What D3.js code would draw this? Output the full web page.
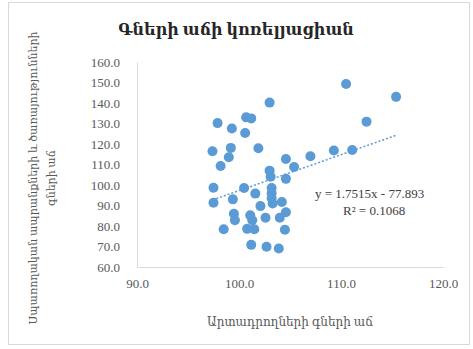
<!DOCTYPE html>
<html><head><meta charset="utf-8">
<script src="https://cdn.jsdelivr.net/npm/d3@7"></script>
<style>
html,body{margin:0;padding:0;background:#fff;}
svg{display:block;}
text{font-family:"Liberation Serif","DejaVu Serif",serif;}
</style></head>
<body><svg id="c" width="473" height="349"></svg>
<script>
const titleText = "Գների աճի կոռելյացիան";
const xTitle = "Արտադրողների գների աճ";
const yTitleLines = ["Սպառողական ապրանքների և ծառայությունների", "գների աճ"];
const xTicks = [90, 100, 110, 120];
const yTicks = [60, 70, 80, 90, 100, 110, 120, 130, 140, 150, 160];
const xValues = [110.5,103.0,100.7,101.2,97.9,99.3,100.6,112.5,115.4,97.4,99.2,101.9,99.0,98.2,104.6,105.4,107.0,109.3,111.1,103.0,103.1,104.6,97.5,100.5,101.6,97.5,99.4,103.2,103.2,103.2,103.3,104.2,102.1,99.5,99.6,101.1,101.3,102.6,104.0,104.6,98.5,100.8,101.5,104.5,101.2,102.7,103.9];
const yValues = [149.3,140.2,133.0,132.5,130.2,127.6,125.4,130.9,143.0,116.5,118.1,117.9,113.5,109.3,112.7,108.8,114.0,116.8,117.1,107.0,104.0,103.0,98.7,98.5,95.8,91.3,93.0,98.5,96.0,93.5,91.0,91.7,89.7,86.0,82.8,85.2,82.8,84.0,84.0,86.7,78.4,78.6,78.4,78.2,70.8,69.9,69.0];
const trendSlope = 1.7515;
const trendIntercept = -77.893;
const eqLines = ["y = 1.7515x - 77.893", "R² = 0.1068"];

const svg = d3.select("#c");
const W = 473, H = 349;
svg.append("rect").attr("x",8.5).attr("y",2.5).attr("width",461).attr("height",342)
  .attr("fill","#fff").attr("stroke","#d9d9d9");

const x = d3.scaleLinear().domain([90,120]).range([137,443]);
const y = d3.scaleLinear().domain([60,160]).range([267,62]);

svg.append("text").attr("x",236).attr("y",35).attr("text-anchor","middle")
  .attr("font-size",16).attr("font-weight","bold").attr("fill","#262626").text(titleText);

const xa = svg.append("g").attr("transform","translate(0,267)")
  .call(d3.axisBottom(x).tickValues(xTicks).tickFormat(d3.format(".1f")).tickSize(0).tickPadding(12));
xa.select(".domain").attr("stroke","#d9d9d9");
xa.selectAll("text").attr("font-size",13).attr("fill","#595959").attr("font-family","Liberation Serif, DejaVu Serif, serif");

const ya = svg.append("g").attr("transform","translate(137,0)")
  .call(d3.axisLeft(y).tickValues(yTicks).tickFormat(d3.format(".1f")).tickSize(0).tickPadding(17));
ya.select(".domain").attr("stroke","#d9d9d9");
ya.selectAll("text").attr("font-size",13).attr("fill","#595959").attr("font-family","Liberation Serif, DejaVu Serif, serif");

svg.append("text").attr("x",290).attr("y",326).attr("text-anchor","middle")
  .attr("font-size",12).attr("fill","#595959").text(xTitle);

const yt = svg.append("text").attr("transform","translate(0,178) rotate(-90)")
  .attr("text-anchor","middle").attr("font-size",11).attr("fill","#595959");
yTitleLines.forEach((l,i)=>{
  yt.append("tspan").attr("x",0).attr("y",37 + i*18).text(l);
});

const pts = xValues.map((v,i)=>({x:v,y:yValues[i]}));
svg.append("g").selectAll("circle").data(pts).join("circle")
  .attr("cx",d=>x(d.x)).attr("cy",d=>y(d.y)).attr("r",5).attr("fill","#5b9bd5");

const xmin = d3.min(xValues), xmax = d3.max(xValues);
svg.append("line")
  .attr("x1",x(xmin)).attr("y1",y(trendSlope*xmin+trendIntercept))
  .attr("x2",x(xmax)).attr("y2",y(trendSlope*xmax+trendIntercept))
  .attr("stroke","#5b9bd5").attr("stroke-width",1.5).attr("stroke-dasharray","2,2");

svg.append("text").attr("x",315).attr("y",198).attr("font-size",13).attr("fill","#404040").text(eqLines[0]);
svg.append("text").attr("x",343).attr("y",215).attr("font-size",13).attr("fill","#404040").text(eqLines[1]);
</script></body></html>
